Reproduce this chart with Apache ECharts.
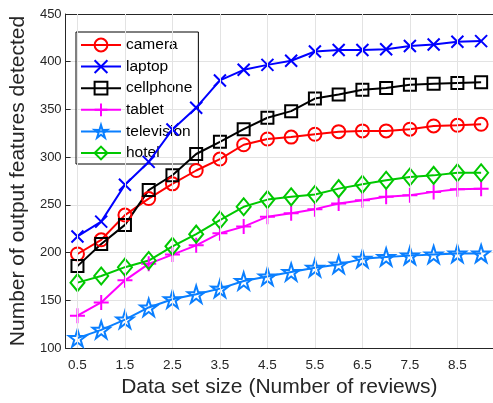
<!DOCTYPE html>
<html>
<head>
<meta charset="utf-8">
<script src="https://cdn.jsdelivr.net/npm/echarts@6/dist/echarts.min.js"></script>
<style>html,body{margin:0;padding:0;background:#fff;}#c{width:493px;height:403px;}</style>
</head>
<body>
<div id="c"></div>
<script>
const xValues = [0.5,1,1.5,2,2.5,3,3.5,4,4.5,5,5.5,6,6.5,7,7.5,8,8.5,9];
const xTickValues = [0.5,1.5,2.5,3.5,4.5,5.5,6.5,7.5,8.5];
const camera = [198.5,213.4,239.3,256.6,272,286,298,313,319,321,324,326.7,327.5,327.5,329.3,332.7,333.4,334.4];
const laptop = [216.9,232.4,271,295,329,351.8,380.4,391.5,396.7,401,410.7,412.2,412.2,413,416.4,418.1,420.9,421.6];
const cellphone = [185.8,208.9,229,265.5,281,303.3,316,329.3,341.3,348.2,361.4,365.6,370.7,372.5,375.9,377,377.7,378.4];
const tablet = [133.9,147.7,170.9,188.2,197.9,207.6,220.3,227.2,237.6,241.1,245.5,251.5,254.9,258.4,260.1,263.6,266.3,267];
const television = [110.4,119,129.8,142.5,151.1,156.3,162.2,170.2,175,179.6,184,187.5,193.4,195.4,196.8,197.9,198.9,198.9];
const hotel = [168.5,175.4,184.7,191.6,206.5,219.3,234.1,248,255.5,258.4,260.8,267,271.5,275.7,279.2,280.9,283.6,283.6];

const STAR = 'path://M50 0L61.2 34.6L97.6 34.5L68.1 55.9L79.4 90.5L50 69L20.6 90.5L31.9 55.9L2.4 34.5L38.8 34.6Z';
const XMARK = 'path://M0 0L10 10M10 0L0 10';
const PLUS = 'path://M5 0L5 10M0 5L10 5';
const FONT = 'Liberation Sans, Arial, sans-serif';

function mk(name, data, color, symbol, size) {
  return {
    name: name, type: 'line', data: xValues.map((x, i) => [x, data[i]]),
    symbol: symbol, symbolSize: size, showAllSymbol: true, z: 3,
    lineStyle: {color: color, width: 2},
    itemStyle: {color: 'rgba(0,0,0,0)', borderColor: color, borderWidth: 2},
    emphasis: {disabled: true}, animation: false, clip: true
  };
}

const axisColor = '#262626';
const chart = echarts.init(document.getElementById('c'), null, {renderer: 'canvas'});
chart.setOption({
  backgroundColor: '#fff',
  animation: false,
  grid: {left: 63.6, top: 14, bottom: 52, right: -17, containLabel: false},
  legend: {
    orient: 'vertical', left: 76, top: 32, z: 2,
    backgroundColor: 'rgba(0,0,0,0)', borderColor: '#000', borderWidth: 1,
    padding: [5, 6, 3, 4], itemGap: 5.6, itemWidth: 40, itemHeight: 16,
    textStyle: {fontFamily: FONT, fontSize: 15.5, color: '#000'},
    data: ['camera','laptop','cellphone','tablet','television','hotel']
  },
  xAxis: [{
    type: 'value', min: 0.25, max: 9.25, position: 'bottom',
    name: 'Data set size (Number of reviews)', nameLocation: 'middle', nameGap: 29,
    nameTextStyle: {fontFamily: FONT, fontSize: 21, color: axisColor},
    axisLine: {show: true, lineStyle: {color: axisColor, width: 1}},
    axisTick: {show: true, inside: true, length: 5, lineStyle: {color: axisColor}, customValues: xTickValues},
    axisLabel: {fontFamily: FONT, fontSize: 13.5, color: axisColor, margin: 10, customValues: xTickValues},
    splitLine: {show: false}
  }, {
    type: 'value', min: 0.25, max: 9.25, position: 'top',
    axisLine: {show: true, onZero: false, lineStyle: {color: axisColor, width: 1}},
    axisTick: {show: true, inside: true, length: 5, lineStyle: {color: axisColor}, customValues: xTickValues},
    axisLabel: {show: false}, splitLine: {show: false}
  }],
  yAxis: {
    type: 'value', min: 100, max: 450, interval: 50,
    name: 'Number of output features detected', nameLocation: 'middle', nameGap: 29,
    nameTextStyle: {fontFamily: FONT, fontSize: 21, color: axisColor},
    axisLine: {show: true, lineStyle: {color: axisColor, width: 1}},
    axisTick: {show: true, inside: true, length: 5, lineStyle: {color: axisColor}},
    axisLabel: {fontFamily: FONT, fontSize: 13, color: axisColor, margin: 4},
    splitLine: {show: true, lineStyle: {color: '#e3e3e3', width: 1}}
  },
  series: [
    {
      type: 'line', data: [], z: 1, silent: true, animation: false,
      markLine: {
        silent: true, symbol: ['none', 'none'], label: {show: false}, animation: false,
        lineStyle: {color: '#e3e3e3', width: 1, type: 'solid'},
        emphasis: {disabled: true},
        data: xTickValues.map(v => ({xAxis: v}))
      }
    },
    mk('camera', camera, '#ff0000', 'circle', 13),
    mk('laptop', laptop, '#0000ff', XMARK, 12),
    mk('cellphone', cellphone, '#000000', 'rect', 12),
    mk('tablet', tablet, '#ff00ff', PLUS, 15),
    mk('television', television, '#0a7fff', STAR, 17),
    mk('hotel', hotel, '#00c800', 'diamond', [14, 17])
  ]
});
</script>
</body>
</html>
